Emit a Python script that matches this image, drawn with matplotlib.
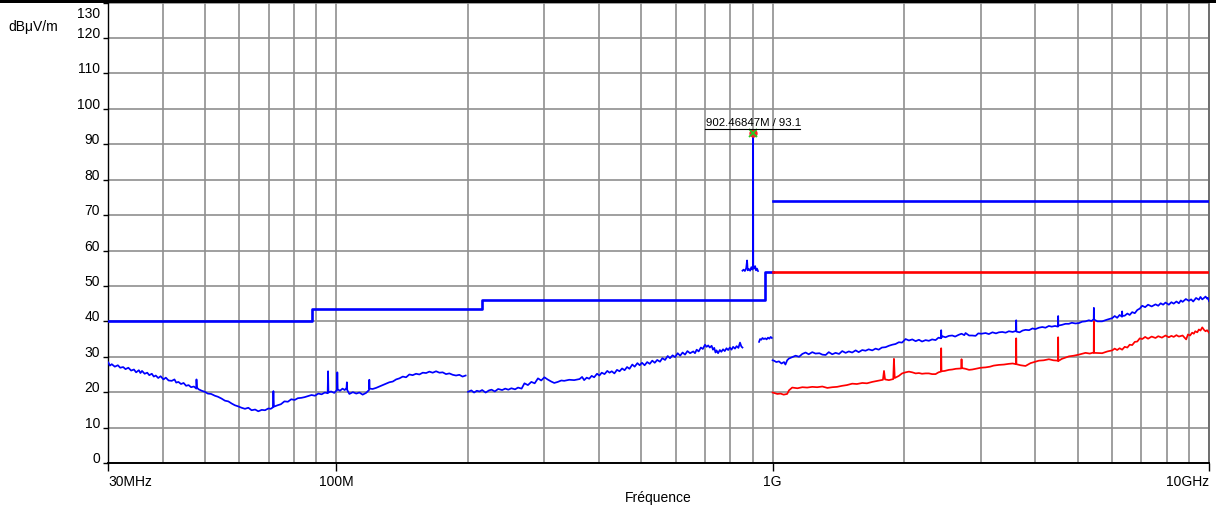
import numpy as np
import matplotlib
matplotlib.use("Agg")
import matplotlib.pyplot as plt
from matplotlib.ticker import LogLocator, NullFormatter
from matplotlib.patches import Rectangle
from matplotlib.lines import Line2D
from matplotlib.transforms import IdentityTransform

plt.rcParams['font.family'] = ['Liberation Sans', 'DejaVu Sans']

# ---------------- data (frequency in MHz, level in dBuV/m) ----------------
# Peak trace, 30-200 MHz
trace_30_200 = [
    (30.05, 28.4), (30.3, 27.5), (30.6, 27.9), (31.1, 27.2), (31.6, 27.6), (32.0, 26.9),
    (32.5, 27.1), (32.9, 26.5), (33.4, 26.9), (33.9, 26.1), (34.4, 26.4), (34.8, 25.6),
    (35.3, 26.2), (35.6, 25.4), (35.9, 26.0), (36.4, 25.2), (36.9, 25.5), (37.3, 24.8),
    (37.8, 25.2), (38.2, 24.4), (38.6, 24.7), (39.1, 24.0), (39.6, 24.5), (40.2, 23.6),
    (40.7, 24.1), (41.3, 23.3), (42.0, 23.2), (42.6, 23.6), (43.0, 22.7), (43.5, 22.9),
    (44.1, 22.3), (44.7, 22.6), (45.3, 21.8), (45.9, 22.0), (46.5, 21.4), (47.2, 21.6),
    (47.8, 21.0), (47.85, 23.6), (47.95, 21.3), (48.4, 20.8), (49.2, 20.4), (50.0, 20.1),
    (50.8, 19.6), (51.7, 19.5), (52.7, 19.0), (53.6, 18.7), (54.6, 18.2), (55.6, 17.6),
    (56.6, 17.4), (57.6, 16.8), (58.6, 16.3), (59.6, 16.0), (60.7, 15.6), (61.8, 15.3),
    (62.9, 15.6), (64.0, 14.9), (65.2, 15.1), (66.3, 14.6), (67.5, 15.0), (68.7, 14.9),
    (69.9, 15.4), (70.8, 15.3), (71.6, 15.7), (71.8, 20.3), (72.0, 15.9), (73.4, 16.3),
    (74.7, 16.6), (76.1, 17.4), (77.5, 17.3), (78.9, 18.0), (80.3, 17.8), (81.7, 18.3),
    (83.2, 18.4), (84.7, 18.6), (86.3, 18.9), (87.8, 19.2), (89.4, 19.0), (91.0, 19.6),
    (92.6, 19.4), (94.2, 19.9), (95.6, 19.7), (95.8, 25.9), (96.0, 19.9), (97.3, 20.2),
    (99.0, 19.8), (100.4, 20.6), (100.6, 25.6), (100.8, 20.8), (102.0, 20.4), (103.4, 21.0),
    (104.6, 20.6), (105.6, 21.2), (105.8, 22.8), (106.0, 20.6), (107.2, 19.5), (109.2, 20.0),
    (111.2, 19.6), (113.0, 19.9), (115.0, 19.3), (117.1, 19.8), (118.9, 20.6), (119.1, 23.5),
    (119.3, 21.0), (121.2, 20.9), (123.4, 21.2), (125.6, 21.6), (127.8, 22.0), (130.1, 22.4),
    (132.4, 22.8), (134.8, 23.0), (137.2, 23.6), (139.6, 23.9), (142.1, 24.4), (144.6, 24.2),
    (147.1, 25.0), (149.7, 24.8), (152.4, 25.2), (155.1, 25.0), (157.9, 25.5), (160.7, 25.4),
    (163.5, 25.8), (166.4, 25.5), (169.4, 25.9), (172.4, 25.5), (175.4, 25.6), (178.5, 25.1),
    (181.7, 25.3), (185.0, 24.9), (188.2, 24.7), (191.5, 24.9), (194.8, 24.4), (198.0, 24.7),
]

# Peak trace, 200-853 MHz
trace_200_850 = [
    (200.5, 20.1), (204, 20.5), (207, 19.9), (210, 20.4), (213, 20.2), (216, 20.6),
    (220, 19.9), (224, 20.5), (227, 20.7), (231, 20.2), (235, 20.9), (240, 20.6),
    (244, 21.0), (248, 20.7), (252, 21.1), (257, 20.8), (261, 21.3), (266, 21.0),
    (270, 22.5), (275, 22.0), (280, 22.9), (285, 22.5), (290, 23.9), (295, 23.3),
    (300, 24.2), (305, 23.6), (311, 23.0), (316, 22.6), (322, 22.9), (328, 23.3),
    (333, 23.2), (342, 23.5), (351, 23.4), (361, 23.7), (366, 24.3), (370, 23.4),
    (375, 24.1), (380, 23.8), (385, 24.6), (390, 24.2), (396, 25.2), (401, 24.7),
    (406, 25.5), (412, 25.1), (418, 26.0), (423, 25.5), (428, 25.9), (434, 25.3),
    (440, 26.3), (446, 25.9), (452, 26.7), (458, 26.2), (464, 27.1), (470, 26.6),
    (477, 27.8), (483, 27.2), (490, 28.2), (496, 27.6), (502, 28.3), (509, 27.6),
    (516, 28.5), (523, 28.0), (530, 28.9), (537, 28.3), (544, 29.1), (552, 28.6),
    (559, 29.6), (567, 29.1), (575, 30.2), (582, 29.6), (590, 30.4), (598, 29.9),
    (606, 31.0), (614, 30.3), (622, 31.2), (630, 30.6), (638, 31.6), (647, 31.0),
    (658, 31.5), (664, 31.0), (670, 32.0), (677, 31.5), (685, 32.6), (692, 32.2),
    (700, 33.4), (706, 32.8), (712, 33.2), (718, 32.6), (725, 33.1), (730, 32.0),
    (735, 32.5), (740, 31.2), (744, 31.8), (750, 31.0), (757, 31.9), (763, 31.4),
    (770, 32.1), (777, 31.6), (784, 32.4), (791, 31.9), (798, 32.6), (805, 32.0),
    (812, 32.8), (820, 32.3), (827, 33.0), (835, 32.5), (842, 34.0), (848, 32.9),
    (853, 32.6),
]

# Peak trace, 853-926 MHz (zoomed sweep containing the 902 MHz carrier)
trace_853_926 = [
    (853, 54.3), (858, 54.6), (864, 54.2), (870, 55.0), (874, 57.2), (877, 54.4),
    (882, 54.8), (888, 54.3), (894, 55.3), (899, 54.6), (902.0, 55.2), (902.47, 93.1),
    (903.0, 55.5), (907, 54.9), (912, 55.6), (916, 54.4), (921, 54.9), (926, 54.2),
]

# Peak trace, 930-1000 MHz
trace_930_1000 = [
    (931, 34.2), (936, 35.0), (942, 34.8), (948, 35.3), (955, 35.0), (962, 35.2),
    (969, 34.9), (976, 35.4), (983, 35.1), (990, 35.6), (996, 35.3),
]

# Peak trace, 1-10 GHz
trace_peak_1g_10g = [
    (1000, 29.0), (1007, 28.9), (1020, 28.5), (1034, 28.7), (1048, 28.1), (1062, 28.5),
    (1070, 27.8), (1080, 29.0), (1090, 29.5), (1110, 29.9), (1129, 30.3), (1150, 30.0),
    (1170, 30.8), (1190, 31.2), (1210, 30.7), (1233, 31.3), (1254, 30.9), (1280, 31.0),
    (1300, 30.6), (1323, 30.5), (1345, 31.3), (1370, 30.7), (1394, 31.1), (1420, 30.8),
    (1444, 31.6), (1470, 31.1), (1495, 31.5), (1522, 31.2), (1550, 31.8), (1575, 31.3),
    (1605, 31.9), (1633, 31.7), (1660, 32.1), (1692, 31.8), (1722, 32.3), (1750, 32.0),
    (1780, 32.6), (1815, 32.7), (1847, 33.1), (1880, 33.4), (1913, 33.6), (1947, 34.1),
    (1980, 34.0), (2017, 35.0), (2053, 34.6), (2090, 34.9), (2127, 34.4), (2164, 34.8),
    (2200, 34.3), (2242, 34.7), (2281, 34.5), (2320, 34.9), (2363, 34.7), (2400, 35.4),
    (2432, 35.2), (2434, 37.5), (2437, 35.4), (2447, 35.8), (2490, 35.5), (2535, 35.9),
    (2580, 36.0), (2620, 35.7), (2670, 36.2), (2710, 36.5), (2750, 36.1), (2768, 36.7),
    (2820, 36.0), (2867, 36.0), (2918, 35.9), (2960, 36.6), (3010, 36.5), (3076, 36.7),
    (3130, 36.4), (3190, 36.9), (3250, 36.6), (3300, 36.9), (3360, 37.0), (3420, 36.8),
    (3479, 37.2), (3550, 37.0), (3612, 37.3), (3616, 40.3), (3620, 37.1), (3680, 36.9),
    (3740, 37.4), (3798, 37.6), (3870, 37.5), (3940, 38.0), (4000, 37.8), (4076, 38.2),
    (4150, 38.4), (4220, 38.2), (4296, 38.7), (4360, 38.5), (4440, 38.7), (4508, 38.5),
    (4512, 41.5), (4516, 38.8), (4600, 39.0), (4690, 39.3), (4774, 39.3), (4850, 39.6),
    (4940, 39.4), (5032, 39.5), (5120, 39.9), (5212, 40.0), (5305, 40.3), (5380, 40.1),
    (5443, 40.6), (5447, 43.8), (5451, 40.5), (5550, 40.0), (5690, 40.0), (5850, 40.5),
    (6000, 40.9), (6080, 41.5), (6160, 41.0), (6240, 41.8), (6320, 41.3), (6324, 42.8),
    (6330, 41.5), (6410, 41.6), (6500, 42.2), (6580, 41.8), (6668, 42.6), (6760, 42.3),
    (6850, 43.2), (6940, 43.6), (7030, 44.4), (7140, 44.0), (7250, 44.7), (7390, 44.2),
    (7541, 44.8), (7650, 44.4), (7750, 45.1), (7850, 44.7), (7950, 45.3), (8090, 44.7),
    (8200, 45.4), (8300, 45.0), (8420, 45.6), (8530, 45.1), (8620, 45.9), (8700, 45.5),
    (8850, 46.3), (8990, 45.8), (9100, 46.2), (9200, 45.6), (9340, 46.6), (9480, 46.1),
    (9560, 46.9), (9650, 46.2), (9740, 46.6), (9820, 47.0), (9900, 46.4), (9950, 46.6),
    (10000, 45.7),
]

# Average trace, 1-10 GHz
trace_avg_1g_10g = [
    (1000, 19.9), (1007, 19.8), (1025, 19.5), (1043, 19.6), (1060, 19.3), (1080, 19.5),
    (1090, 20.5), (1109, 21.3), (1140, 21.1), (1170, 21.4), (1200, 21.3), (1233, 21.5),
    (1265, 21.4), (1300, 21.6), (1335, 21.2), (1370, 21.4), (1405, 21.5), (1444, 21.8),
    (1480, 22.0), (1522, 22.4), (1560, 22.3), (1605, 22.6), (1645, 22.5), (1692, 22.9),
    (1740, 23.2), (1790, 23.5), (1800, 26.0), (1810, 23.6), (1847, 23.4), (1890, 23.7),
    (1897, 29.4), (1905, 24.0), (1947, 24.6), (1980, 25.3), (2017, 25.6), (2053, 25.8),
    (2090, 25.6), (2127, 25.3), (2164, 25.4), (2200, 25.2), (2242, 25.3), (2281, 25.3),
    (2320, 25.1), (2363, 25.1), (2400, 25.6), (2431, 25.8), (2434, 32.4), (2438, 25.9),
    (2480, 26.0), (2535, 26.3), (2580, 26.4), (2630, 26.6), (2706, 26.7), (2710, 29.3),
    (2714, 26.8), (2768, 26.6), (2820, 26.3), (2867, 26.4), (2918, 26.6), (3000, 26.9),
    (3076, 27.0), (3150, 27.2), (3210, 27.5), (3300, 27.7), (3390, 27.8), (3479, 28.0),
    (3550, 28.1), (3612, 27.9), (3616, 35.2), (3620, 27.9), (3700, 27.6), (3798, 27.4),
    (3900, 28.2), (4000, 28.6), (4076, 28.9), (4180, 29.0), (4296, 29.3), (4400, 29.0),
    (4508, 28.9), (4512, 35.5), (4516, 28.8), (4600, 29.4), (4774, 30.1), (4900, 30.3),
    (5032, 30.6), (5212, 31.1), (5330, 30.9), (5443, 31.2), (5447, 40.0), (5451, 31.1),
    (5690, 31.0), (5850, 31.5), (6000, 31.8), (6080, 32.3), (6160, 31.9), (6240, 32.4),
    (6324, 32.0), (6410, 32.8), (6500, 32.6), (6580, 33.4), (6668, 33.3), (6760, 34.2),
    (6850, 34.3), (6940, 35.2), (7030, 35.0), (7140, 35.6), (7250, 35.1), (7390, 35.7),
    (7541, 35.3), (7650, 35.8), (7800, 35.4), (7950, 36.0), (8090, 35.5), (8200, 35.9),
    (8300, 35.6), (8420, 36.1), (8530, 35.7), (8700, 36.0), (8865, 34.9), (8950, 36.3),
    (9050, 36.0), (9150, 36.8), (9230, 36.5), (9300, 37.2), (9400, 36.9), (9480, 37.7),
    (9560, 37.4), (9650, 38.3), (9740, 37.6), (9820, 37.2), (9900, 37.5), (10000, 36.8),
]

# Limit lines
qp_limit_freqs = [30, 88, 216, 960, 1000]
qp_limit_levels = [40, 43.5, 46, 54, 54]
peak_limit_freqs = [1000, 10000]
peak_limit_levels = [74, 74]
avg_limit_freqs = [1000, 10000]
avg_limit_levels = [54, 54]

# Marker
marker_freq = 902.46847
marker_level = 93.1
marker_text = "902.46847M / 93.1"

# Axis ticks
xtick_pos = [30, 100, 1000, 10000]
xtick_labels = ["30MHz", "100M", "1G", "10GHz"]
ytick_pos = list(range(0, 131, 10))

BLUE = "#0000ff"
RED = "#ff0000"
GRID = "#8f8f8f"

# ---------------- figure ----------------
W, H = 1216, 508
fig = plt.figure(figsize=(W / 100, H / 100), dpi=100)
ax = fig.add_axes([108 / W, (H - 463) / H, (1209 - 108) / W, (463 - 2.6) / H])

ax.set_xscale("log")
ax.set_xlim(30, 10000)
ax.set_ylim(0, 130)

# grid
ax.xaxis.set_minor_locator(LogLocator(base=10, subs=np.arange(2, 10)))
ax.xaxis.set_minor_formatter(NullFormatter())
ax.set_xticks(xtick_pos, xtick_labels)
ax.set_yticks(ytick_pos)
ax.grid(True, which="both", axis="x", color=GRID, lw=1.2, zorder=0)
ax.grid(True, which="major", axis="y", color=GRID, lw=1.2, zorder=0)
ax.set_axisbelow(True)

ax.tick_params(axis="x", which="minor", length=0)
ax.tick_params(axis="x", which="major", length=6, width=1, direction="out",
               labelsize=10, pad=2.5, colors="black")
ax.tick_params(axis="y", which="major", length=3.6, width=1, direction="out",
               labelsize=10, pad=2.2)

xl = ax.get_xticklabels()
xl[0].set_ha("left")
xl[-1].set_ha("right")
yl = ax.get_yticklabels()
for lbl in yl:
    lbl.set_va("baseline")
yl[-1].set_visible(False)
ax.annotate("130", xy=(0, 130), xycoords=("axes fraction", "data"),
            xytext=(-8, -15), textcoords="offset pixels", ha="right",
            va="baseline", fontsize=10)

for s in ["left", "bottom"]:
    ax.spines[s].set_color("black")
ax.spines["left"].set_linewidth(1.0)
ax.spines["bottom"].set_linewidth(1.4)
ax.spines["right"].set_color("#6e6e6e")
ax.spines["right"].set_linewidth(1.4)
ax.spines["top"].set_visible(False)

# limits
ax.plot(qp_limit_freqs, qp_limit_levels, drawstyle="steps-post", color=BLUE, lw=1.9, zorder=3)
ax.plot(peak_limit_freqs, peak_limit_levels, color=BLUE, lw=1.9, zorder=3)
ax.plot(avg_limit_freqs, avg_limit_levels, color=RED, lw=1.9, zorder=3)

# traces
for seg in [trace_30_200, trace_200_850, trace_853_926, trace_930_1000, trace_peak_1g_10g]:
    f, v = np.array(seg).T
    ax.plot(f, v, color=BLUE, lw=1.25, zorder=4)
f, v = np.array(trace_avg_1g_10g).T
ax.plot(f, v, color=RED, lw=1.25, zorder=4)

# marker
ax.plot([marker_freq], [marker_level], "o", color="#ff2020", ms=5, zorder=6)
ax.plot([marker_freq], [marker_level], "x", color="#22cc22", ms=6, mew=1.3, zorder=7)
ax.annotate(marker_text, xy=(marker_freq, marker_level), xytext=(0, 7),
            textcoords="offset pixels", ha="center", va="baseline", fontsize=8.2)
px, py = ax.transData.transform((marker_freq, marker_level))
fig.add_artist(Line2D([px - 48, px + 47], [py + 4, py + 4], transform=IdentityTransform(),
                      color="black", lw=0.8))

# labels
fig.text(8 / W, 1 - 31 / H, "dBμV/m", fontsize=10, ha="left", va="baseline")
fig.text(658 / W, 6 / H, "Fréquence", fontsize=10, ha="center", va="baseline")

# top black bar
fig.add_artist(Rectangle((0, 1 - 3 / H), 1, 3 / H, transform=fig.transFigure,
                         color="black", lw=0))

fig.savefig("out.png", dpi=100)
